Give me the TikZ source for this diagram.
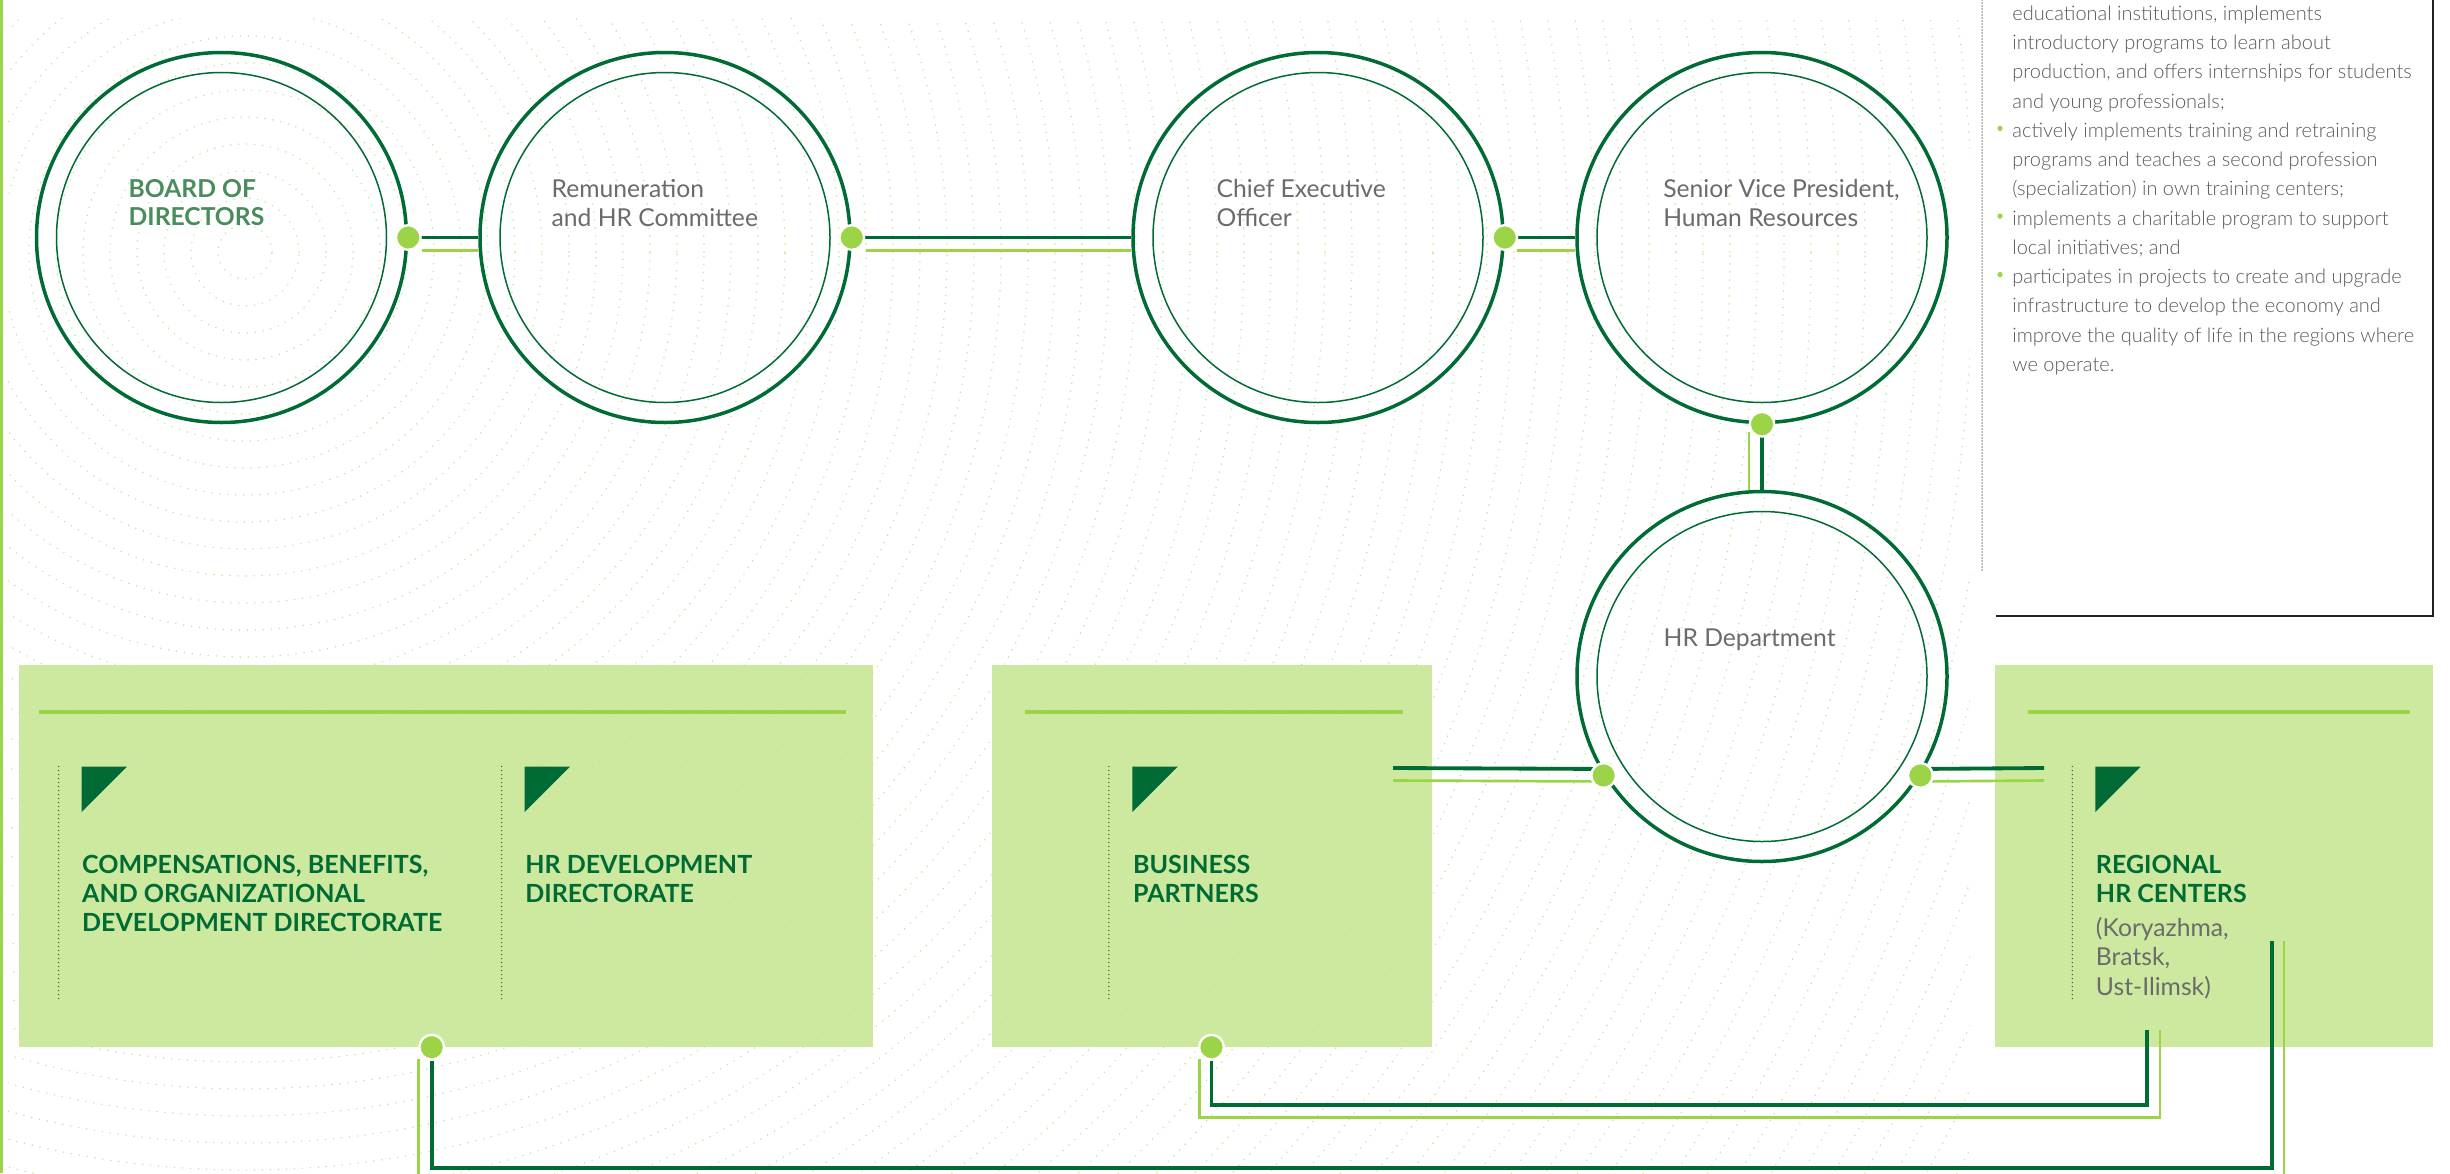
\documentclass[tikz,border=0pt]{standalone}
\usepackage{fontspec}
\setmainfont{Lato}
\newfontfamily\latolight{Lato Light}
\usetikzlibrary{calc}
\definecolor{dkgreen}{HTML}{006B35}
\definecolor{ltgreen}{HTML}{9BD447}
\definecolor{boxfill}{HTML}{CDE9A0}
\definecolor{txtgray}{HTML}{6B6B6B}
\definecolor{ptxtgray}{HTML}{5A5A5A}
\definecolor{bodgreen}{HTML}{4A8C5E}
\definecolor{patgreen}{HTML}{C6E598}
\definecolor{dotgray}{HTML}{555555}
\definecolor{framegray}{HTML}{222222}
\begin{document}
\begin{tikzpicture}[x=0.3pt,y=-0.3pt,
  outerring/.style={circle, draw=dkgreen, line width=1.05pt, minimum size=111pt, inner sep=0pt},
  innerring/.style={circle, draw=dkgreen, line width=0.45pt, minimum size=99pt, inner sep=0pt},
  dotn/.style={circle, fill=ltgreen, draw=white, line width=0.7pt, minimum size=7.4pt, inner sep=0pt},
  dkline/.style={draw=dkgreen, line width=1.15pt},
  ltline/.style={draw=ltgreen, line width=0.8pt},
  boxn/.style={rectangle, fill=boxfill, inner sep=0pt, minimum height=114.6pt},
  bar/.style={draw=ltgreen, line width=1.05pt},
  vdots/.style={draw=dotgray, line width=0.45pt, dash pattern=on 0pt off 1.2pt, line cap=round},
  patline/.style={draw=patgreen, line width=0.5pt, dash pattern=on 0pt off 2.4pt, line cap=round},
  tri/.style={fill=dkgreen},
  lbl/.style={anchor=base west, align=left, inner sep=0pt, font=\fontsize{7.4}{8.9}\selectfont, text=txtgray},
  hdr/.style={anchor=base west, align=left, inner sep=0pt, font=\bfseries\fontsize{7.5}{8.7}\selectfont, text=dkgreen},
  ptxt/.style={anchor=base west, inner sep=0pt, font=\latolight\fontsize{6.0}{8.8}\selectfont, text=ptxtgray},
  bul/.style={fill=ltgreen}
]
\useasboundingbox (0,0) rectangle (2450,1173);
\clip (0,0) rectangle (2450,1173);
\fill[white] (0,0) rectangle (2450,1173);

% boxes
\node[boxn, minimum width=256.2pt] (box1) at (446,855.5) {};
\node[boxn, minimum width=132pt] (bp) at (1211.5,855.5) {};
\node[boxn, minimum width=131.4pt] (rg) at (2214,855.5) {};

% background pattern
\begin{scope}
\clip (8,18) rectangle (1970,1173);
\foreach \k in {1,...,75} \draw[patline] (245,252) circle[radius=\k*8.1pt];
\end{scope}

% left border
\draw[ltgreen, line width=0.9pt] (2,0) -- (2,1173);

% circles
\node[outerring] (bod) at (221.5,237.5) {};
\node[innerring] at (bod) {};
\node[outerring] (rem) at (665,237.5) {};
\node[innerring] at (rem) {};
\node[outerring] (ceo) at (1318,237.5) {};
\node[innerring] at (ceo) {};
\node[outerring] (svp) at (1762,237.5) {};
\node[innerring] at (svp) {};
\node[outerring] (hrd) at (1762,676.5) {};
\node[innerring] at (hrd) {};

% labels in circles (anchor = baseline of last line)
\node[anchor=base west, align=left, inner sep=0pt, font=\bfseries\fontsize{7.4}{8.5}\selectfont, text=bodgreen] (bodt) at (128,225.5) {BOARD OF\\DIRECTORS};
\node[lbl] (remt) at (551,226.7) {Remuneration\\and HR Committee};
\node[lbl] (ceot) at (1216,226.7) {Chief Executive\\Officer};
\node[lbl] (svpt) at (1662.6,226.7) {Senior Vice President,\\Human Resources};
\node[lbl] (hrdt) at (1663,646.7) {HR Department};

% box contents
\draw[bar] (39,712) -- (845.6,712);
\draw[bar] (1024.6,712) -- (1402.8,712);
\draw[bar] (2028,712) -- (2409.7,712);

\draw[vdots] (58.6,766.5) -- (58.6,1000.5);
\draw[vdots] (501.7,766.5) -- (501.7,1000.5);
\draw[vdots] (1108.8,766.5) -- (1108.8,1000.5);
\draw[vdots] (2072.3,766.5) -- (2072.3,1000.5);

\fill[tri] (81.5,766.5) -- (127,766.5) -- (81.5,812) -- cycle;
\fill[tri] (524.7,766.5) -- (570.2,766.5) -- (524.7,812) -- cycle;
\fill[tri] (1132.4,766.5) -- (1177.9,766.5) -- (1132.4,812) -- cycle;
\fill[tri] (2095.3,766.5) -- (2140.8,766.5) -- (2095.3,812) -- cycle;

\node[hdr] (h1) at (81.5,931) {COMPENSATIONS, BENEFITS,\\AND ORGANIZATIONAL\\DEVELOPMENT DIRECTORATE};
\node[hdr] (h2) at (524.7,902) {HR DEVELOPMENT\\DIRECTORATE};
\node[hdr] (h3) at (1132.4,902) {BUSINESS\\PARTNERS};
\node[hdr] (h4) at (2095.3,902) {REGIONAL\\HR CENTERS};
\node[lbl, font=\fontsize{7.4}{8.85}\selectfont] (h4s) at (2095.3,995) {(Koryazhma,\\Bratsk,\\Ust-Ilimsk)};

% connector end points
\coordinate (bpR) at (1393,768);
\coordinate (rgL) at (2044,768);
\coordinate (rgA) at (2272,941);
\coordinate (rgAl) at (2284,941);
\coordinate (rgB) at (2147,1030);
\coordinate (rgBl) at (2160,1030);

% top connectors
\draw[dkline] (bod.east) -- (rem.west);
\draw[ltline] ($(bod.east)+(14,13)$) -- ($(rem.west)+(0,13)$);
\draw[dkline] (rem.east) -- (ceo.west);
\draw[ltline] ($(rem.east)+(14,13)$) -- ($(ceo.west)+(0,13)$);
\draw[dkline] (ceo.east) -- (svp.west);
\draw[ltline] ($(ceo.east)+(12,13)$) -- ($(svp.west)+(0,13)$);
\draw[dkline] (svp.south) -- (hrd.north);
\draw[ltline] ($(svp.south)+(-13,8)$) -- ($(hrd.north)+(-13,0)$);

% HR department to boxes
\draw[dkline] ($(hrd.212)+(0,-6.5)$) -- (bpR);
\draw[ltline] ($(hrd.212)+(0,6)$) -- (bpR |- 0,780.5);
\draw[dkline] ($(hrd.-32)+(0,-6.5)$) -- (rgL);
\draw[ltline] ($(hrd.-32)+(0,6)$) -- (rgL |- 0,780.5);

% bottom connectors
\coordinate (d7) at ($(box1.south)+(-14.3,0)$);
\coordinate (d8) at (bp.south);
\draw[dkline] (d7) ++(0,14) -- ++(0,107) -| (rgA);
\draw[ltline] (d7) ++(-13,12) -- ++(0,121) -| (rgAl);
\draw[dkline] (d8) ++(0,14) -- ++(0,44) -| (rgB);
\draw[ltline] (d8) ++(-12,12) -- ++(0,58) -| (rgBl);

% dots
\node[dotn] at (bod.east) {};
\node[dotn] at (rem.east) {};
\node[dotn] at (ceo.east) {};
\node[dotn] at (svp.south) {};
\node[dotn] at (hrd.212) {};
\node[dotn] at (hrd.-32) {};
\node[dotn] at (d7) {};
\node[dotn] at (d8) {};

% right panel
\draw[draw=dotgray, line width=0.45pt, dash pattern=on 0pt off 0.9pt, line cap=round] (1982,0) -- (1982,571);
\draw[framegray, line width=0.6pt] (2433,0) -- (2433,615.5) -- (1995.7,615.5);

\node[ptxt] (p1) at (2011.7,20.4) {educational institutions, implements};
\node[ptxt] (p2) at (2011.7,49.6) {introductory programs to learn about};
\node[ptxt] (p3) at (2011.7,78.9) {production, and offers internships for students};
\node[ptxt] (p4) at (2011.7,108.1) {and young professionals;};
\node[ptxt] (p5) at (2011.7,137.4) {actively implements training and retraining};
\node[ptxt] (p6) at (2011.7,166.6) {programs and teaches a second profession};
\node[ptxt] (p7) at (2011.7,195.9) {(specialization) in own training centers;};
\node[ptxt] (p8) at (2011.7,225.1) {implements a charitable program to support};
\node[ptxt] (p9) at (2011.7,254.4) {local initiatives; and};
\node[ptxt] (p10) at (2011.7,283.6) {participates in projects to create and upgrade};
\node[ptxt] (p11) at (2011.7,312.9) {infrastructure to develop the economy and};
\node[ptxt] (p12) at (2011.7,342.1) {improve the quality of life in the regions where};
\node[ptxt] (p13) at (2011.7,371.4) {we operate.};
\fill[bul] (2000,128.4) circle[radius=0.8pt];
\fill[bul] (2000,216.1) circle[radius=0.8pt];
\fill[bul] (2000,274.6) circle[radius=0.8pt];
\end{tikzpicture}
\end{document}
